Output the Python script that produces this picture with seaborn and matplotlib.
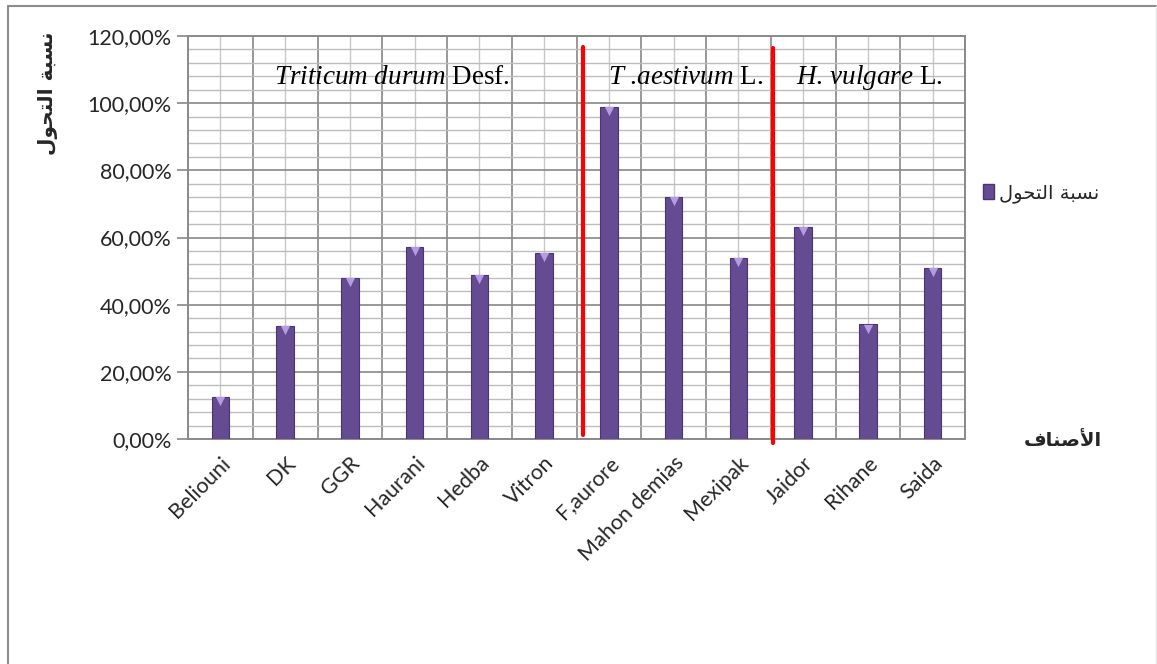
import matplotlib
matplotlib.use("Agg")
import matplotlib.pyplot as plt
import matplotlib.ticker as mticker
from matplotlib.patches import Patch
from matplotlib.lines import Line2D
import numpy as np
import pandas as pd
import seaborn as sns

# ---- data ----
categories = ["Beliouni", "DK", "GGR", "Haurani", "Hedba", "Vitron",
              "F,aurore", "Mahon demias", "Mexipak", "Jaidor", "Rihane", "Saida"]
values = [12.5, 33.6, 47.9, 57.1, 48.7, 55.3, 98.8, 72.2, 53.8, 63.2, 34.1, 50.8]
y_ticks = [0, 20, 40, 60, 80, 100, 120]

# Arabic strings pre-shaped (presentation forms, visual order)
legend_label = "\uFEDD\uFEEE\uFEA4\uFE98\uFEDF\uFE8D \uFE94\uFE92\uFEB4\uFEE7"   # نسبة التحول
xlabel_text = "\uFED1\uFE8E\uFEE8\uFEBB\uFEF7\uFE8D"                              # الأصناف

group_labels = [(r"$\it{Triticum\ durum}$ Desf.", 2.65),
                (r"$\it{T}$ .$\it{aestivum}$ L.", 7.18),
                (r"$\it{H}$. $\it{vulgare}$ L.", 10.03)]
separators = [(5.6, 1.2, 116.8), (8.53, -1.2, 116.4)]

bar_color = "#654b92"

sns.set_theme(style="white")
plt.rcParams["font.family"] = ["Lato", "DejaVu Sans"]
plt.rcParams["mathtext.fontset"] = "custom"
plt.rcParams["mathtext.rm"] = "Liberation Serif"
plt.rcParams["mathtext.it"] = "Liberation Serif:italic"

fig = plt.figure(figsize=(11.57, 6.64), dpi=100)
ax = fig.add_axes([188/1157, 1-439/664, (965-188)/1157, (439-36)/664])

df = pd.DataFrame({"cat": categories, "val": values})
sns.barplot(data=df, x="cat", y="val", color=bar_color, width=0.27,
            saturation=1, ax=ax, zorder=3, edgecolor="#4a3570", linewidth=0.8)

# small lighter triangles at bar tops (bevel look)
ax.scatter(range(len(categories)), np.array(values) - 1.2, marker="v", s=45,
           color="#b59be0", zorder=4, linewidths=0)

ax.set_xlim(-0.5, len(categories) - 0.5)
ax.set_ylim(0, 120)
ax.set_yticks(y_ticks)
ax.yaxis.set_minor_locator(mticker.MultipleLocator(4))
ax.yaxis.set_major_formatter(mticker.FuncFormatter(lambda v, p: f"{v:.2f}%".replace(".", ",")))
ax.set_xticks(range(len(categories)))
ax.set_xticklabels(categories, rotation=45, ha="right", rotation_mode="anchor", fontsize=15.5)
ax.xaxis.set_minor_locator(mticker.FixedLocator(np.arange(-0.5, len(categories), 1.0)))
ax.tick_params(axis="y", which="major", labelsize=15.5, length=8, color="#888888", width=1.2, left=True, pad=4)
ax.tick_params(axis="y", which="minor", length=0)
ax.tick_params(axis="x", which="both", length=0, pad=10)

ax.grid(True, axis="y", which="major", color="#888888", linewidth=1.2, zorder=0)
ax.grid(True, axis="y", which="minor", color="#bdbdbd", linewidth=1.0, zorder=0)
ax.grid(True, axis="x", which="minor", color="#888888", linewidth=1.2, zorder=0)
ax.grid(True, axis="x", which="major", color="#c8c8c8", linewidth=1.0, zorder=0)
ax.set_axisbelow(True)
for s in ax.spines.values():
    s.set_color("#8a8a8a")
    s.set_linewidth(1.4)
ax.set_xlabel("")
ax.set_ylabel("")

# red separators
for x, y0, y1 in separators:
    ax.plot([x, x], [y0, y1], color="#ff0000", linewidth=3.0, zorder=5, clip_on=False)

# group annotations
for txt, x in group_labels:
    ax.text(x, 107.6, txt, ha="center", va="center", fontsize=19.5,
            family="Liberation Serif", color="black", zorder=6)

# axis titles (Arabic)
fig.text(48/1157, 1-93/664, legend_label, rotation=90, ha="center", va="center",
         fontsize=14.5, fontweight="bold", family="DejaVu Sans")
fig.text(1063/1157, 1-441/664, xlabel_text, ha="center", va="center",
         fontsize=14, fontweight="bold", family="DejaVu Sans")

# legend
handle = Patch(facecolor=bar_color, edgecolor="#4a3570")
leg = fig.legend([handle], [legend_label], loc="center left",
                 bbox_to_anchor=(965/1157, 1-193/664), frameon=False,
                 prop={"family": "DejaVu Sans", "size": 14},
                 handlelength=0.6, handleheight=0.75, handletextpad=0.25)

# outer chart border
fig.add_artist(Line2D([8/1157, 8/1157], [0, 1-6/664], transform=fig.transFigure,
                      color="#8c8c8c", linewidth=1.5))
fig.add_artist(Line2D([8/1157, 1156/1157], [1-6/664, 1-6/664], transform=fig.transFigure,
                      color="#8c8c8c", linewidth=1.5))
fig.add_artist(Line2D([1155.5/1157, 1155.5/1157], [0, 1-6/664], transform=fig.transFigure,
                      color="#e6e6e6", linewidth=1.0))

fig.savefig("out.png", dpi=100)
